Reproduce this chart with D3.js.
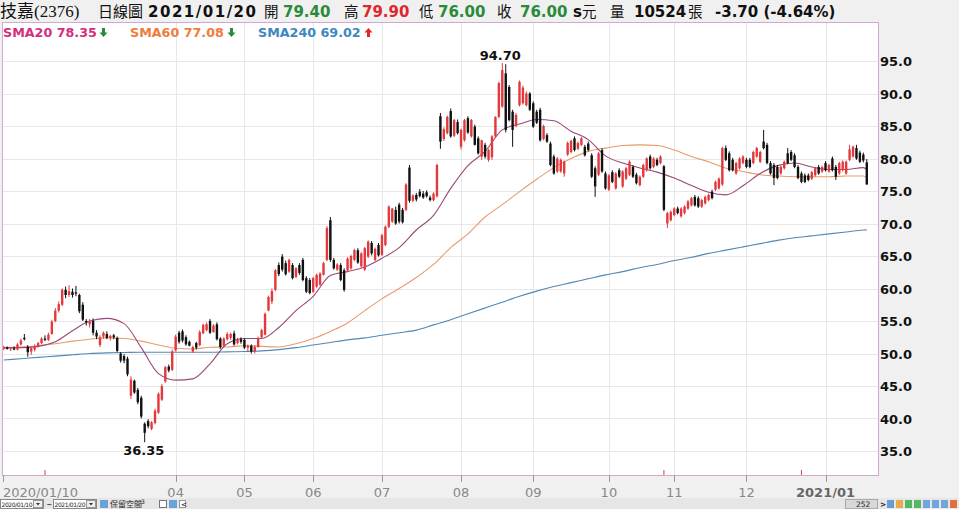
<!DOCTYPE html>
<html><head><meta charset="utf-8">
<script src="https://cdn.jsdelivr.net/npm/d3@7"></script>
<style>body{margin:0;background:#f0f0f0;} svg{display:block;}</style>
</head><body><svg id="c" width="959" height="509"></svg>
<script>
// ---------------- DATA ----------------
const open=[50.8,50.9,50.7,50.8,50.6,51.4,52.4,51.0,50.3,50.6,51.1,51.6,52.3,52.1,53.0,55.0,56.6,57.5,59.8,59.0,
59.5,59.4,59.0,57.5,55.0,54.5,55.0,53.2,51.3,52.6,53.0,52.4,52.8,52.4,50.0,49.6,49.2,43.5,45.8,44.4,
43.2,39.2,39.6,38.4,39.3,40.9,42.9,45.7,48.0,47.5,50.5,53.2,53.4,52.5,51.8,50.3,51.6,51.3,53.1,53.6,
55.0,53.3,54.5,52.3,51.2,52.2,52.4,53.1,51.6,52.2,52.1,50.9,51.2,50.3,51.0,52.5,52.9,56.6,58.0,59.8,
63.6,64.9,63.9,62.6,63.6,61.8,63.6,64.4,61.6,61.3,59.5,60.3,60.6,62.1,64.4,70.5,64.4,62.9,63.6,62.8,
62.8,63.1,64.4,65.9,63.4,62.9,64.9,67.0,64.4,66.7,65.2,66.7,69.5,70.3,72.1,72.9,72.1,72.1,78.6,73.5,
74.4,74.9,74.6,74.8,74.0,73.6,74.2,86.5,83.0,83.9,87.3,83.5,85.6,81.8,82.8,86.2,83.4,84.9,83.1,80.3,
82.1,79.8,80.2,83.4,86.4,88.0,93.1,91.0,87.2,85.0,88.2,88.5,88.2,90.0,88.5,87.2,87.5,83.0,83.6,82.3,
80.3,78.0,78.0,77.7,80.6,81.0,83.1,81.5,82.1,81.8,82.3,80.5,78.5,77.5,81.3,77.7,75.2,77.9,75.4,78.2,
75.7,76.9,77.5,78.7,77.5,75.9,77.2,78.2,80.3,78.7,79.8,79.3,78.8,70.0,70.5,71.3,72.3,71.1,71.6,72.3,
72.8,74.1,73.9,72.6,73.1,73.6,74.9,75.2,75.4,76.0,81.6,80.8,79.8,77.7,78.5,79.3,79.8,79.8,79.3,80.3,
79.5,82.6,82.1,79.3,79.0,78.7,77.7,78.5,80.8,81.0,80.5,78.7,77.7,77.4,77.4,76.9,77.4,78.7,78.0,79.3,
78.0,80.0,78.7,77.7,78.2,77.7,79.8,80.3,81.6,80.9,80.6,79.4];
const high=[51.2,51.1,51.0,51.1,51.6,52.3,53.0,51.3,51.0,51.4,51.8,52.5,52.8,53.2,55.2,57.0,58.0,60.0,60.3,60.5,
60.0,60.4,59.2,57.9,55.3,55.3,55.4,53.6,52.8,53.4,53.4,52.9,53.0,52.6,50.2,49.9,49.5,46.5,46.0,44.7,
43.5,39.4,39.9,39.6,41.5,44.0,45.3,48.1,48.3,50.6,52.9,53.5,53.7,52.8,52.0,51.2,51.8,53.6,54.6,54.8,
55.3,54.5,54.8,52.5,52.5,53.3,53.2,53.5,52.4,52.5,52.3,51.4,51.4,51.3,52.6,53.8,56.3,58.9,60.0,63.0,
64.0,65.3,64.3,64.6,63.9,63.3,63.9,64.7,61.9,61.6,61.8,62.3,62.5,64.1,69.6,71.0,64.7,63.9,63.9,63.1,
64.8,65.2,66.1,66.2,65.6,66.4,67.4,67.3,66.3,67.0,68.4,69.7,72.8,72.4,72.6,73.2,72.4,76.2,79.0,74.5,
74.7,75.3,75.0,75.1,74.3,74.8,79.2,87.0,84.8,86.6,87.7,86.1,86.0,84.6,86.1,86.5,86.1,85.2,83.4,82.9,
82.4,81.5,83.6,86.5,91.8,94.7,94.5,91.3,87.5,87.0,92.0,91.2,90.3,90.2,88.8,87.5,87.8,85.2,83.9,82.6,
80.6,80.2,80.0,79.7,82.6,82.9,83.4,82.6,83.3,82.1,82.6,80.8,78.8,81.0,81.6,78.0,77.6,78.2,77.9,78.5,
78.2,78.7,79.7,79.0,77.8,77.4,79.2,80.2,80.6,80.2,80.1,80.5,79.0,71.8,72.0,72.5,72.6,72.5,72.8,73.6,
74.1,74.4,74.2,73.8,74.3,74.6,75.2,76.6,77.1,81.8,82.0,81.1,80.1,79.5,80.2,80.5,80.1,80.1,81.2,81.8,
81.2,84.4,82.4,79.6,79.3,79.0,78.9,79.7,81.6,81.3,80.8,79.0,78.0,77.7,77.7,78.1,78.7,79.0,78.9,79.6,
79.2,80.3,79.0,79.5,79.7,79.7,82.1,82.0,82.1,81.2,80.9,79.9];
const low=[50.5,50.6,50.4,50.5,50.5,51.2,52.0,49.5,49.8,50.3,50.9,51.4,51.9,51.9,52.9,54.8,56.3,57.3,58.5,58.7,
58.6,58.8,56.2,55.0,54.3,54.0,52.8,52.2,51.0,52.3,52.2,52.0,52.2,50.2,48.6,48.5,46.5,43.0,43.8,42.2,
40.0,36.35,38.5,38.2,39.1,40.7,42.7,45.5,47.1,47.3,50.3,51.5,51.7,51.2,51.1,50.1,50.6,51.1,53.0,53.4,
53.0,53.2,52.0,50.7,51.0,52.0,52.1,51.2,51.4,51.5,50.7,50.2,50.0,50.0,50.9,52.4,52.8,56.5,57.6,59.6,
61.9,62.6,62.0,62.4,61.4,61.6,62.1,61.1,59.3,59.1,59.3,60.1,60.4,62.0,64.2,64.1,62.9,62.7,61.1,59.5,
62.6,62.9,64.2,63.8,63.2,62.7,64.7,65.1,64.2,64.9,65.0,66.5,69.3,70.1,69.8,70.0,70.0,71.9,73.2,73.3,
73.4,74.0,73.8,74.0,73.4,73.4,74.0,81.5,82.7,83.7,83.2,83.3,83.7,81.4,82.6,83.8,83.2,82.0,80.6,79.8,
80.0,79.5,79.8,83.2,86.2,87.8,84.0,85.7,81.8,84.8,88.0,88.3,88.0,87.3,84.7,85.3,82.6,82.8,82.4,78.8,
77.5,77.8,77.8,77.2,80.4,80.8,81.1,81.3,81.9,80.3,81.1,77.0,74.1,77.3,77.8,75.2,75.0,76.2,75.2,77.0,
75.5,76.7,77.3,77.0,76.0,75.7,77.0,78.0,78.3,78.5,78.8,79.1,71.9,69.3,70.3,71.1,71.4,70.9,71.4,72.1,
72.6,72.6,72.4,72.4,72.9,73.4,73.7,75.0,75.2,75.8,79.6,78.0,78.0,77.5,78.3,79.1,78.5,78.5,79.1,80.1,
79.3,81.4,79.1,77.5,75.9,76.8,77.5,78.3,79.1,79.6,78.5,76.8,76.2,76.2,76.5,76.7,77.2,77.5,77.8,78.0,
77.8,78.0,76.7,77.5,78.0,77.5,79.6,80.1,79.8,79.3,79.4,76.0];
const close=[50.9,50.7,50.8,50.6,51.4,52.0,52.2,50.2,50.8,51.1,51.6,52.3,52.1,52.9,54.9,56.6,57.6,59.8,59.0,59.6,
59.0,59.2,56.5,55.2,54.8,54.9,53.2,52.6,52.5,53.2,52.4,52.7,52.5,50.4,48.9,48.9,46.8,46.0,44.0,42.5,
40.3,37.8,38.8,39.4,41.2,43.8,45.0,47.9,47.4,50.3,52.6,51.8,52.0,51.4,51.2,51.0,50.9,53.3,54.4,54.5,
53.2,54.3,52.2,51.0,52.3,53.0,53.0,51.4,52.2,51.8,50.9,51.2,50.3,51.0,52.4,53.6,56.1,58.7,59.6,62.8,
62.2,62.9,62.2,64.4,61.6,63.1,62.4,61.3,59.5,59.3,61.6,62.1,62.3,63.9,69.3,64.4,63.1,63.7,61.3,59.8,
64.6,65.0,65.9,64.0,65.4,66.2,67.2,65.4,66.1,65.1,68.2,69.5,72.6,72.3,70.0,70.3,70.2,76.0,73.5,74.3,
73.7,74.2,74.0,74.2,73.6,74.6,79.0,82.6,84.5,86.4,83.4,85.9,83.9,84.4,85.9,84.0,85.9,82.1,80.8,82.8,
80.3,81.3,83.4,86.4,91.6,93.6,84.4,85.9,84.4,86.7,91.8,90.9,90.0,87.5,84.9,85.5,82.8,85.0,82.6,79.0,
77.7,80.0,79.8,79.5,82.4,82.7,81.3,82.4,83.1,80.5,81.3,77.2,75.7,80.8,78.0,75.4,77.4,76.4,77.7,77.2,
78.0,78.5,79.5,77.2,76.2,77.2,79.0,80.0,78.5,80.0,79.0,80.3,72.1,71.6,71.8,72.3,71.6,72.3,72.6,73.4,
73.9,72.8,72.6,73.6,74.1,74.4,73.9,76.4,76.9,81.6,79.8,78.2,78.2,79.3,80.0,80.3,78.7,78.7,81.0,81.6,
81.0,81.6,79.3,77.7,77.0,77.0,78.7,79.5,79.3,79.8,78.7,77.0,76.4,76.4,76.7,77.9,78.5,77.7,78.7,78.2,
79.0,78.2,77.2,79.3,79.5,79.5,81.4,81.8,80.0,79.5,79.7,76.0];

const monthLabels=["2020/01/10","04","05","06","07","08","09","10","11","12","2021/01"];
const monthIdx=[0,50,70,90,110,133,154,176,195,216,239];
const yTicks=[35,40,45,50,55,60,65,70,75,80,85,90,95];
const eventIdx=[12,192,232];

const smaIdx=[0,5,10,15,20,25,30,35,40,45,50,55,60,65,70,75,80,85,90,95,100,105,110,115,120,125,
130,135,140,145,150,155,160,165,170,175,180,185,190,195,200,205,210,215,220,225,230,235,240,245,250,251];
const sma20=[50.9,50.9,51.1,51.8,53.5,55.0,55.4,54.6,50.9,46.9,45.9,46.1,48.4,51.5,52.3,52.3,54.0,56.6,58.8,62.0,62.6,63.3,
64.65,66.3,69.0,71.25,75.4,78.9,81.1,84.4,85.3,86.0,85.8,84.2,82.9,80.4,79.3,78.55,77.9,77.0,75.85,74.8,74.4,75.8,77.7,78.9,
79.3,78.7,78.3,78.3,78.6,78.35];
const sma60=[50.9,51.0,51.2,51.5,51.9,52.2,52.4,52.3,51.9,51.3,50.8,50.7,50.95,51.0,51.2,51.1,51.0,51.5,52.3,53.4,54.7,56.6,
58.4,60.0,61.7,63.7,66.3,68.4,71.0,72.9,74.9,76.8,78.6,80.0,81.1,81.6,82.0,82.1,82.0,81.3,80.3,79.5,78.5,78.0,77.5,77.3,
77.2,77.2,77.2,77.3,77.3,77.08];
const sma240=[49.0,49.2,49.4,49.6,49.8,50.0,50.1,50.15,50.2,50.2,50.2,50.2,50.2,50.25,50.3,50.4,50.6,50.9,51.3,51.7,52.1,52.4,
52.8,53.2,53.6,54.4,55.2,56.1,57.0,57.9,58.8,59.6,60.3,60.9,61.5,62.1,62.6,63.2,63.7,64.3,64.8,65.4,65.9,66.4,66.9,67.4,
67.8,68.1,68.4,68.7,69.0,69.02];

const headerParts=["技嘉(2376)","日線圖","2021/01/20","開","79.40","高","79.90","低","76.00","收","76.00","s","元","量","10524","張","-3.70 (-4.64%)"];
const headerKind=["cjk","cjk","bold","cjk","green","cjk","red","cjk","green","cjk","green","bold","cjk","cjk","bold","cjk","bold"];
const legendNames=["SMA20","SMA60","SMA240"];
const legendValues=["78.35","77.08","69.02"];
const legendTrend=["down","down","up"];

// ---------------- DRAW ----------------
const svg=d3.select("#c");
const P={l:2,r:878,t:22,b:475};
const x=d3.scaleBand().domain(d3.range(close.length)).range([2,868.5]);
const cx=i=>x(i)+x.bandwidth()/2;
const y=d3.scaleLinear().domain([35,95]).range([451,61]);

svg.append("rect").attr("width",959).attr("height",509).attr("fill","#f0f0f0");
svg.append("rect").attr("x",P.l).attr("y",P.t).attr("width",P.r-P.l).attr("height",P.b-P.t).attr("fill","#fff");

// grid
svg.append("g").selectAll("line").data(yTicks).join("line")
  .attr("x1",P.l).attr("x2",P.r).attr("y1",d=>Math.round(y(d))+0.5).attr("y2",d=>Math.round(y(d))+0.5)
  .attr("stroke","#e8e8e8");
svg.append("g").selectAll("line").data(monthIdx.slice(1)).join("line")
  .attr("x1",d=>Math.round(cx(d))+0.5).attr("x2",d=>Math.round(cx(d))+0.5).attr("y1",P.t).attr("y2",P.b)
  .attr("stroke","#e8e8e8");

// SMA lines
const line=(arr)=>d3.line().x((d,k)=>cx(smaIdx[k])).y(d=>y(d)).curve(d3.curveMonotoneX)(arr);
svg.append("path").attr("d",line(sma240)).attr("fill","none").attr("stroke","#5288b4").attr("stroke-width",1.1);
svg.append("path").attr("d",line(sma60)).attr("fill","none").attr("stroke","#e99b6a").attr("stroke-width",1.1);
svg.append("path").attr("d",line(sma20)).attr("fill","none").attr("stroke","#9c4678").attr("stroke-width",1.1);

// candles
const idx=d3.range(close.length);
const col=i=>close[i]>open[i]?"#e3393c":"#111";
const g=svg.append("g");
g.selectAll(".w").data(idx).join("line")
  .attr("x1",i=>cx(i)).attr("x2",i=>cx(i)).attr("y1",i=>y(high[i])).attr("y2",i=>y(low[i]))
  .attr("stroke",col).attr("stroke-width",1);
g.selectAll(".b").data(idx).join("rect")
  .attr("x",i=>cx(i)-1.2).attr("width",2.4)
  .attr("y",i=>y(Math.max(open[i],close[i])))
  .attr("height",i=>Math.max(1,Math.abs(y(open[i])-y(close[i]))))
  .attr("fill",col);

// event markers
svg.append("g").selectAll("line").data(eventIdx).join("line")
  .attr("x1",d=>cx(d)).attr("x2",d=>cx(d)).attr("y1",P.b-5).attr("y2",P.b)
  .attr("stroke","#c04848").attr("stroke-width",1);

// extreme labels
const iMax=d3.maxIndex(high), iMin=d3.minIndex(low);
svg.append("text").attr("x",cx(iMax)-2).attr("y",y(high[iMax])-3).attr("text-anchor","middle")
  .attr("font-family","DejaVu Sans").attr("font-weight","bold").attr("font-size",13).attr("fill","#111").text(high[iMax].toFixed(2));
svg.append("text").attr("x",cx(iMin)-1).attr("y",y(low[iMin])+13).attr("text-anchor","middle")
  .attr("font-family","DejaVu Sans").attr("font-weight","bold").attr("font-size",13).attr("fill","#111").text(low[iMin].toFixed(2));

// border
svg.append("rect").attr("x",P.l+0.5).attr("y",P.t+0.5).attr("width",P.r-P.l).attr("height",P.b-P.t)
  .attr("fill","none").attr("stroke","#d4a6d4");

// y axis labels
svg.append("g").selectAll("text").data(yTicks).join("text")
  .attr("x",880).attr("y",d=>y(d)+5).attr("font-family","DejaVu Sans").attr("font-weight","bold")
  .attr("font-size",13).attr("fill","#111").text(d=>d.toFixed(1));

// x axis
svg.append("g").selectAll("line").data(monthIdx).join("line")
  .attr("x1",(d,k)=>k===0?3.5:Math.round(cx(d))+0.5).attr("x2",(d,k)=>k===0?3.5:Math.round(cx(d))+0.5)
  .attr("y1",P.b).attr("y2",P.b+7).attr("stroke","#999");
svg.append("g").selectAll("text").data(monthLabels).join("text")
  .attr("x",(d,k)=>k===0?3:cx(monthIdx[k])).attr("y",496.5)
  .attr("text-anchor",(d,k)=>k===0?"start":"middle")
  .attr("font-family","DejaVu Sans").attr("font-size",13)
  .attr("font-weight",(d,k)=>k===monthLabels.length-1?"bold":"normal")
  .attr("fill",(d,k)=>k===monthLabels.length-1?"#666":"#888").text(d=>d);

// header
const hx=[0,98,148,264,283,344,362,419,438,497,520,573,582,610,634,688,715];
const kindStyle={cjk:["#111","normal",14.5],bold:["#111","bold",15],green:["#2a8a3a","bold",15],red:["#e0262c","bold",15]};
svg.append("g").selectAll("text").data(headerParts).join("text")
  .attr("x",(d,k)=>hx[k]).attr("y",17)
  .attr("font-family",(d,k)=>headerKind[k]==="cjk"?"'Liberation Serif','Noto Sans CJK TC'":"DejaVu Sans")
  .attr("font-size",(d,k)=>k===0?17:(k===1?15:kindStyle[headerKind[k]][2]))
  .attr("font-weight",(d,k)=>kindStyle[headerKind[k]][1])
  .attr("textLength",(d,k)=>k===2?108:null)
  .attr("fill",(d,k)=>kindStyle[headerKind[k]][0]).text(d=>d);

// legend
const lx=[3,130,258], lcol=["#d42f7e","#ee7d3c","#3d88c0"], ax=[100,228,365];
legendNames.forEach((n,k)=>{
  svg.append("text").attr("x",lx[k]).attr("y",37).attr("font-family","DejaVu Sans").attr("font-weight","bold")
    .attr("font-size",12.7).attr("fill",lcol[k]).text(n+" "+legendValues[k]);
  const a=ax[k], up=legendTrend[k]==="up";
  const pth=up?`M${a+3.5},28 L${a+7.5},32.5 L${a+5},32.5 L${a+5},37 L${a+2},37 L${a+2},32.5 L${a-0.5},32.5 Z`
              :`M${a+2},28 L${a+5},28 L${a+5},32.5 L${a+7.5},32.5 L${a+3.5},37 L${a-0.5},32.5 L${a+2},32.5 Z`;
  svg.append("path").attr("d",pth).attr("fill",up?"#e0262c":"#2a8a3a");
});

// bottom toolbar
const tb=svg.append("g").attr("font-family","DejaVu Sans").attr("font-size",7.5).attr("fill","#222");
tb.append("rect").attr("x",0).attr("y",498).attr("width",959).attr("height",11).attr("fill","#e6e6e6");
const boxes=[[0,"2020/01/10"],[53,"2021/01/20"]];
boxes.forEach(([bx,t])=>{
  tb.append("rect").attr("x",bx+0.5).attr("y",499.5).attr("width",43).attr("height",9).attr("fill","#fff").attr("stroke","#888");
  tb.append("text").attr("x",bx+1.5).attr("y",506.5).attr("font-size",6).attr("textLength",31).text(t);
  tb.append("rect").attr("x",bx+33.5).attr("y",500.5).attr("width",9).attr("height",7).attr("fill","#eee").attr("stroke","#999");
  tb.append("path").attr("d",`M${bx+36},503 L${bx+40},503 L${bx+38},505.5Z`).attr("fill","#333");
});
tb.append("text").attr("x",46).attr("y",507).text("~");
tb.append("rect").attr("x",100).attr("y",500).attr("width",8).attr("height",8).attr("fill","#6aa3da");
tb.append("text").attr("x",110).attr("y",507).attr("font-family","'Noto Sans CJK TC'").attr("font-size",8).text("保留空間");
tb.append("text").attr("x",141).attr("y",504).attr("font-size",6).text("3");
tb.append("rect").attr("x",159.5).attr("y",500.5).attr("width",7).attr("height",7).attr("fill","#fff").attr("stroke","#777");
tb.append("rect").attr("x",169).attr("y",500).attr("width",8).attr("height",8).attr("fill","#6aa3da");
tb.append("rect").attr("x",179.5).attr("y",500.5).attr("width",6).attr("height",7).attr("fill","#fff").attr("stroke","#999");
tb.append("text").attr("x",181).attr("y",507).text("<");
tb.append("rect").attr("x",845.5).attr("y",499.5).attr("width",32).attr("height",9).attr("fill","#d8d8d8").attr("stroke","#aaa");
tb.append("text").attr("x",856).attr("y",507).text(close.length);
tb.append("text").attr("x",880).attr("y",507).attr("font-weight","bold").text(">");
const icols=["#4d8fd0","#e8a030","#3cae4a","#3cae4a","#5a9ad8","#5a9ad8","#5a9ad8","#e05a20"];
icols.forEach((c,k)=>tb.append("rect").attr("x",887+k*9).attr("y",500).attr("width",7).attr("height",8).attr("fill",c).attr("opacity",0.85));
</script></body></html>
